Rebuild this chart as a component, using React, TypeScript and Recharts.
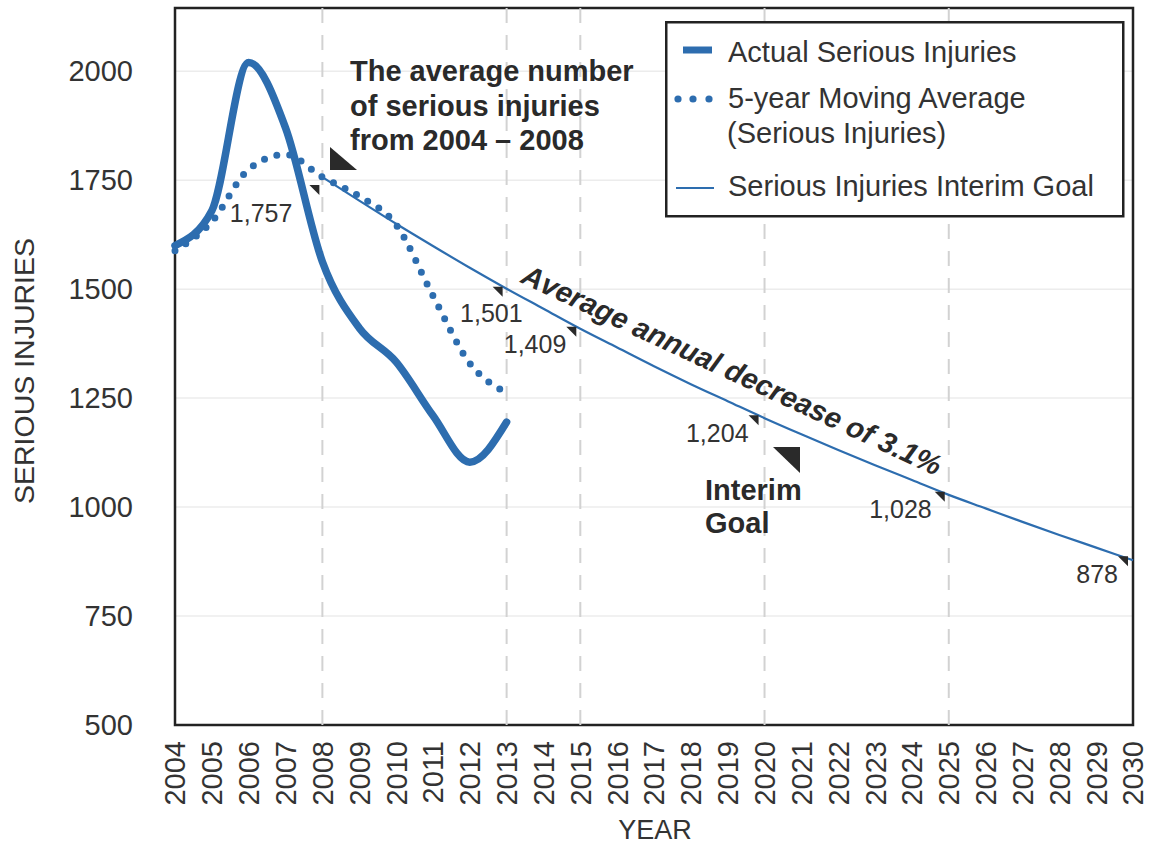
import React from 'react';
import {
  LineChart,
  Line,
  XAxis,
  YAxis,
  CartesianGrid,
  ReferenceLine,
  ReferenceArea,
  Legend,
  LabelList,
} from 'recharts';

const FONT = '"Liberation Sans", Arial, Helvetica, sans-serif';
const BLUE = '#2d6daf';
const TEXT = '#333333';
const DARK = '#2a2a2a';

const years = [
  '2004', '2005', '2006', '2007', '2008', '2009', '2010', '2011', '2012', '2013',
  '2014', '2015', '2016', '2017', '2018', '2019', '2020', '2021', '2022', '2023',
  '2024', '2025', '2026', '2027', '2028', '2029', '2030',
];

const actualInjuries = [1600, 1680, 2020, 1870, 1563, 1411, 1333, 1210, 1103, 1195];

const movingAverage = [1588, 1655, 1775, 1809, 1757, 1713, 1648, 1485, 1330, 1262];

const interimGoal = [
  null, null, null, null,
  1757, 1703, 1650, 1599, 1549, 1501, 1455, 1409, 1366, 1323, 1282, 1243,
  1204, 1167, 1131, 1096, 1062, 1028, 997, 966, 936, 907, 878,
];

const yTicks = [500, 750, 1000, 1250, 1500, 1750, 2000];

const dashedYears = ['2008', '2013', '2015', '2020', '2025'];

const goalLabelYears = ['2008', '2013', '2015', '2020', '2025', '2030'];
const goalLabelTexts = ['1,757', '1,501', '1,409', '1,204', '1,028', '878'];

// label placement relative to the goal point (styling only)
const goalLabelPlacement: Record<string, { tx: number; ty: number; dx: number; dy: number }> = {
  '2008': { tx: -3, ty: 8, dx: -30, dy: 36 },
  '2013': { tx: -4, ty: -2, dx: 16, dy: 25 },
  '2015': { tx: -4, ty: -2, dx: -14, dy: 15 },
  '2020': { tx: -6, ty: -3, dx: -16, dy: 15 },
  '2025': { tx: -4, ty: -3, dx: -17, dy: 14 },
  '2030': { tx: -5, ty: -4, dx: -15, dy: 14 },
};

const data = years.map((year, i) => ({
  year,
  actual: i < actualInjuries.length ? actualInjuries[i] : null,
  avg: i < movingAverage.length ? movingAverage[i] : null,
  goal: interimGoal[i],
}));

const XTick = (props: any) => {
  const { x, y, payload } = props;
  return (
    <text
      x={0}
      y={0}
      transform={`translate(${x},${y}) rotate(-90)`}
      textAnchor="end"
      dy="0.36em"
      fill={TEXT}
      fontSize={29}
      fontFamily={FONT}
    >
      {payload.value}
    </text>
  );
};

const GoalLabel = (props: any) => {
  const { x, y, index } = props;
  if (x == null || y == null) return null;
  const year = years[index];
  const k = goalLabelYears.indexOf(year);
  if (k < 0) return null;
  const p = goalLabelPlacement[year];
  const tr = x + p.tx;
  const tt = y + p.ty;
  const s = 10;
  return (
    <g>
      <polygon points={`${tr - s},${tt} ${tr},${tt} ${tr},${tt + s}`} fill={DARK} />
      <text
        x={x + p.dx}
        y={y + p.dy}
        dy="0.35em"
        textAnchor="end"
        fill={TEXT}
        fontSize={25}
        fontFamily={FONT}
      >
        {goalLabelTexts[k]}
      </text>
    </g>
  );
};

const LegendBox = () => (
  <svg width={460} height={198} style={{ display: 'block' }}>
    <rect x={1.25} y={1.25} width={457} height={194} fill="#ffffff" stroke="#222" strokeWidth={2.5} />
    <line x1={18} x2={47} y1={29} y2={29} stroke={BLUE} strokeWidth={7} />
    <text x={63} y={31} dy="0.35em" fontSize={29} fill={TEXT} fontFamily={FONT}>
      Actual Serious Injuries
    </text>
    <circle cx={13} cy={78} r={3.6} fill={BLUE} />
    <circle cx={28} cy={78} r={3.6} fill={BLUE} />
    <circle cx={44} cy={78} r={3.6} fill={BLUE} />
    <text x={63} y={77} dy="0.35em" fontSize={29} fill={TEXT} fontFamily={FONT}>
      5-year Moving Average
    </text>
    <text x={62} y={112} dy="0.35em" fontSize={29} fill={TEXT} fontFamily={FONT}>
      (Serious Injuries)
    </text>
    <line x1={11} x2={49} y1={167} y2={167} stroke={BLUE} strokeWidth={2} />
    <text x={63} y={165} dy="0.35em" fontSize={29} fill={TEXT} fontFamily={FONT}>
      Serious Injuries Interim Goal
    </text>
  </svg>
);

const Annotations = (_props: any) => (
  <g fontFamily={FONT}>
    <text x={24} y={371} dy="0.35em" transform="rotate(-90 24 371)" textAnchor="middle" fontSize={28.5} fill={TEXT}>
      SERIOUS INJURIES
    </text>
    <text x={655} y={830} dy="0.35em" textAnchor="middle" fontSize={27} fill={TEXT}>
      YEAR
    </text>
    <g fontWeight="bold" fontSize={29} fill={DARK}>
      <text x={350} y={71} dy="0.35em">The average number</text>
      <text x={350} y={105.5} dy="0.35em">of serious injuries</text>
      <text x={350} y={139.5} dy="0.35em">from 2004 – 2008</text>
      <text x={705} y={490} dy="0.35em">Interim</text>
      <text x={705} y={523} dy="0.35em">Goal</text>
      <text
        x={732}
        y={370}
        dy="0.35em"
        textAnchor="middle"
        fontStyle="italic"
        transform="rotate(25 732 370)"
      >
        Average annual decrease of 3.1%
      </text>
    </g>
    <polygon points="330,147 330,170 357,170" fill={DARK} />
    <polygon points="773,447 800,447 800,473" fill={DARK} />
  </g>
);

export default function App() {
  return (
    <div style={{ width: 1152, height: 844, fontFamily: FONT }}>
      <style>{'body{margin:0;}'}</style>
      <LineChart width={1152} height={844} data={data} margin={{ top: 8, right: 19, left: 0, bottom: 0 }}>
        <CartesianGrid vertical={false} stroke="#ececec" strokeWidth={1.5} />
        <XAxis
          dataKey="year"
          interval={0}
          height={119}
          tickLine={false}
          axisLine={false}
          tickSize={0}
          tickMargin={16}
          tick={<XTick />}
        />
        <YAxis
          domain={[500, 2145]}
          ticks={yTicks}
          width={175}
          tickLine={false}
          axisLine={false}
          tickSize={0}
          tickMargin={42}
          allowDataOverflow
          tick={{ fill: TEXT, fontSize: 29, fontFamily: FONT }}
        />
        {dashedYears.map((yr) => (
          <ReferenceLine key={yr} x={yr} stroke="#d2d2d2" strokeWidth={2} strokeDasharray="15 12" />
        ))}
        <ReferenceArea x1="2004" x2="2030" y1={500} y2={2145} fill="none" stroke="#222" strokeWidth={2.5} />
        <ReferenceLine y={2145} stroke="none" label={<Annotations />} />
        <Legend
          layout="vertical"
          align="center"
          verticalAlign="middle"
          content={() => <LegendBox />}
          wrapperStyle={{ position: 'absolute', left: 665, top: 21, right: 'auto', bottom: 'auto', width: 460, height: 198 }}
        />
        <Line
          dataKey="goal"
          type="monotone"
          stroke={BLUE}
          strokeWidth={2.2}
          dot={false}
          activeDot={false}
          isAnimationActive={false}
        >
          <LabelList dataKey="goal" content={<GoalLabel />} />
        </Line>
        <Line
          dataKey="avg"
          type="monotone"
          stroke={BLUE}
          strokeWidth={7}
          strokeDasharray="0 13"
          strokeLinecap="round"
          dot={false}
          activeDot={false}
          isAnimationActive={false}
        />
        <Line
          dataKey="actual"
          type="monotone"
          stroke={BLUE}
          strokeWidth={7.5}
          strokeLinecap="round"
          strokeLinejoin="round"
          dot={false}
          activeDot={false}
          isAnimationActive={false}
        />
      </LineChart>
    </div>
  );
}
